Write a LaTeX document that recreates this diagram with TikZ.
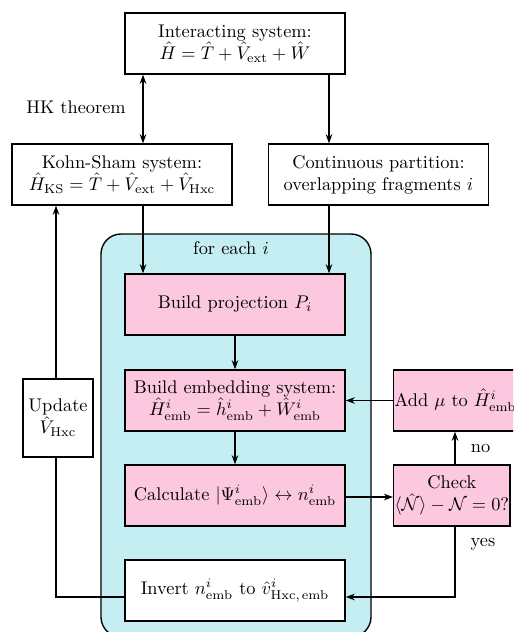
\documentclass[tikz,border=0pt]{standalone}
\usepackage{amsmath}
\usetikzlibrary{arrows.meta,calc}
\definecolor{pinkbox}{RGB}{252,200,224}
\definecolor{loopbg}{RGB}{197,238,242}
\tikzset{
  lw/.style={line width=0.75pt},
  arw/.tip={Stealth[length=5pt,width=3.6pt]},
  box/.style={draw, lw, minimum width=119.9pt, minimum height=33.2pt, align=center, inner sep=1.5pt},
  pbox/.style={box, fill=pinkbox},
  sidebox/.style={draw, lw, fill=pinkbox, minimum height=33.2pt, align=center, inner sep=0.5pt, anchor=west},
  conn/.style={lw, -arw},
  plain/.style={lw},
}
\begin{document}
\begin{tikzpicture}[x=0.545pt,y=-0.545pt]
\useasboundingbox (0,0) rectangle (513,632);
\clip (0,0) rectangle (513,632);

% loop region
\draw[lw, fill=loopbg, rounded corners=10.9pt] (101,234) rectangle (371,637);
\node (foreach) at (231,248) {for each $i$};

% top-level systems
\node[box] (inter) at (235,43.5) {Interacting system:\\ $\hat{H}=\hat{T}+\hat{V}_{\text{ext}}+\hat{W}$};
\node[box] (ks) at (122,174.5) {Kohn-Sham system:\\ $\hat{H}_{\text{KS}}=\hat{T}+\hat{V}_{\text{ext}}+\hat{V}_{\text{Hxc}}$};
\node[box] (part) at (378.5,174.5) {Continuous partition:\\ overlapping fragments $i$};
\node (hk) at (76,107) {HK theorem};

% embedding steps
\node[pbox] (proj) at (235,304.5) {Build projection $P_i$};
\node[pbox] (emb) at (235,400.5) {Build embedding system:\\ $\hat{H}^i_{\text{emb}}=\hat{h}^i_{\text{emb}}+\hat{W}^i_{\text{emb}}$};
\node[pbox] (calc) at (235,495.5) {Calculate $|\Psi^i_{\text{emb}}\rangle\leftrightarrow n^i_{\text{emb}}$};
\node[box, fill=white] (inv) at (235,590.5) {Invert $n^i_{\text{emb}}$ to $\hat{v}^i_{\text{Hxc,\,emb}}$};

% chemical potential loop
\node[sidebox] (addmu) at (393,400.5) {Add $\mu$ to $\hat{H}^i_{\text{emb}}$};
\node[sidebox] (check) at (393,495.5) {Check\\ $\langle\hat{\mathcal{N}}\rangle-\mathcal{N}=0?$};

% potential update
\node[draw, lw, fill=white, minimum width=38.2pt, minimum height=42.5pt, align=center, inner sep=0.5pt] (upd) at (58,418) {Update\\ $\hat{V}_{\text{Hxc}}$};

% connectors
\coordinate (ksA) at ($(ks.north)+(21,0)$);
\draw[lw, arw-arw] (inter.south -| ksA) -- (ksA);
\coordinate (partA) at ($(part.north)+(-49.5,0)$);
\draw[conn] (inter.south -| partA) -- (partA);
\draw[conn] ($(ks.south)+(21,0)$) -- (proj.north -| ksA);
\draw[conn] ($(part.south)+(-49.5,0)$) -- (proj.north -| partA);
\draw[conn] (proj) -- (emb);
\draw[conn] (emb) -- (calc);
\draw[conn] (calc.east |- 0,497) -- (check.west |- 0,497);
\draw[conn] (addmu.west) -- (emb.east);
\coordinate (chk) at (455,0);
\draw[conn] (check.north -| chk) -- (addmu.south -| chk) node[pos=0.5, right=5pt] {no};
\coordinate (retY) at (0,597);
\draw[conn] (check.south -| chk) -- (chk |- retY) -- (inv.east |- retY);
\node at (483,544) {yes};
\coordinate (upX) at (56,0);
\draw[plain] (inv.west |- retY) -- (upX |- retY) -- (upd.south -| upX);
\draw[conn] (upd.north -| upX) -- (ks.south -| upX);
\end{tikzpicture}
\end{document}
